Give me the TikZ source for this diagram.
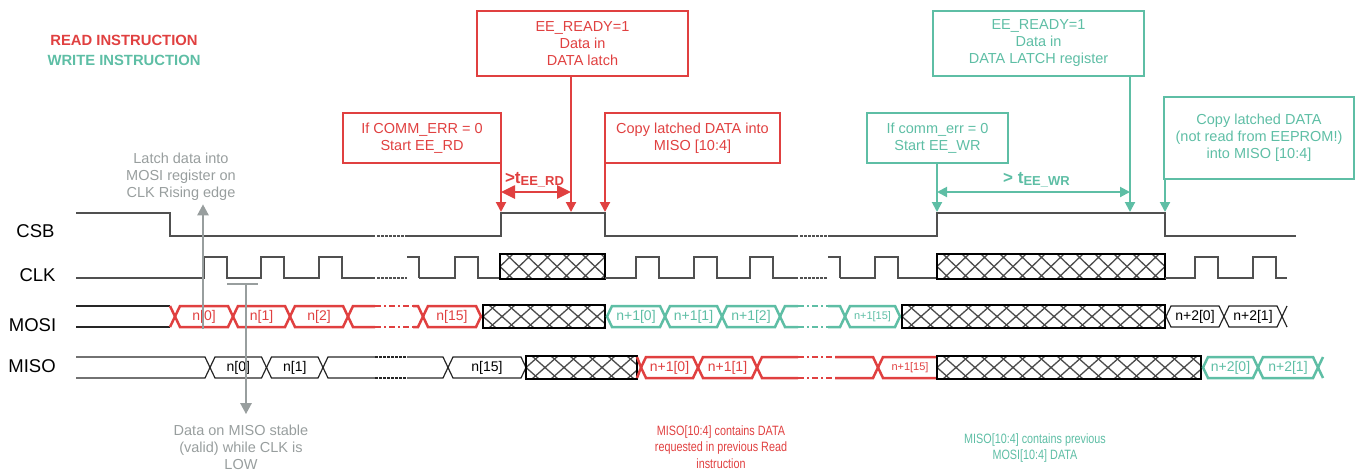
\documentclass[tikz,border=0pt]{standalone}
\usepackage{fontspec}
\setmainfont{Liberation Sans}
\newfontfamily\narrowsans[FakeStretch=0.8]{Liberation Sans}
\usetikzlibrary{arrows.meta}

\definecolor{rdc}{RGB}{224,64,64}
\definecolor{tlc}{RGB}{94,190,165}
\definecolor{gyc}{RGB}{152,158,158}
\definecolor{sgc}{RGB}{80,80,80}

\newcommand{\txtsize}{\fontsize{14.5}{17}\selectfont}
\newcommand{\lblsize}{\fontsize{14}{14}\selectfont}
\newcommand{\smlsize}{\fontsize{11}{11}\selectfont}

% bus cell: name, style, left tip, right tip, top, bottom, label
\newcommand{\hexseg}[7]{%
  \draw[#2] (#3,{(#5+#6)/2}) -- (#3+5,#5) -- (#4-5,#5) -- (#4,{(#5+#6)/2}) -- (#4-5,#6) -- (#3+5,#6) -- cycle;
  \node[#2, draw=none, font=\lblsize] (#1) at ({(#3+#4)/2},{(#5+#6)/2}) {#7};}
% broken bus cell: style, left tip, right tip, gap from, gap to, top, bottom, gap style
\newcommand{\gapseg}[8]{%
  \draw[#1] (#4,#6) -- (#2+5,#6) -- (#2,{(#6+#7)/2}) -- (#2+5,#7) -- (#4,#7);
  \draw[#1] (#5,#6) -- (#3-5,#6) -- (#3,{(#6+#7)/2}) -- (#3-5,#7) -- (#5,#7);
  \draw[#1,#8] (#4,#6) -- (#5,#6) (#4,#7) -- (#5,#7);}
% clock run: start, rising edges, end
\newcommand{\clkrun}[3]{%
  \draw[sig] (#1,278) foreach \tck in {#2} {-- (\tck,278) -- (\tck,257) -- (\tck+23,257) -- (\tck+23,278)} -- (#3,278);}
% don't-care box: left, top, right, bottom
\newcommand{\hatchbox}[4]{%
  \fill[white] (#1,#2) rectangle (#3,#4);
  \begin{scope}
    \clip (#1,#2) rectangle (#3,#4);
    \foreach \hk in {-1,...,15} {
      \pgfmathsetmacro{\hx}{#1+19*\hk}
      \draw[hatchline] (\hx-13,#2) -- (\hx+13,#4) (\hx+13,#2) -- (\hx-13,#4);}
  \end{scope}
  \draw[hatchframe] (#1,#2) rectangle (#3,#4);}

\begin{document}
\begin{tikzpicture}[x=1pt, y=-1pt,
    sig/.style={draw=sgc, line width=1.5pt},
    brk/.style={dash pattern=on 2.5pt off 1.5pt},
    dsh/.style={dash pattern=on 6pt off 3pt on 2pt off 3pt},
    rdbus/.style={draw=rdc, text=rdc, line width=2.5pt},
    tlbus/.style={draw=tlc, text=tlc, line width=2.5pt},
    bkbus/.style={draw=black!85, text=black, line width=1.2pt},
    hatchline/.style={draw=black!70, line width=1.3pt},
    hatchframe/.style={draw=black, line width=1.8pt},
    rdbox/.style={rectangle, draw=rdc, text=rdc, line width=2pt, align=center, font=\txtsize, inner sep=0pt},
    tlbox/.style={rectangle, draw=tlc, text=tlc, line width=2pt, align=center, font=\txtsize, inner sep=0pt},
    note/.style={align=center, font=\txtsize, text=gyc},
    remark/.style={align=center, font=\narrowsans\fontsize{13.5}{16.5}\selectfont},
    signame/.style={font=\fontsize{18.5}{18.5}\selectfont},
    keytext/.style={font=\bfseries\fontsize{14.8}{14.8}\selectfont},
    rdarr/.style={draw=rdc, line width=2pt, -{Triangle[length=10pt,width=10pt]}},
    tlarr/.style={draw=tlc, line width=2pt, -{Triangle[length=10pt,width=10pt]}},
    rdspan/.style={draw=rdc, line width=2.6pt, {Triangle[length=14pt,width=13pt]}-{Triangle[length=14pt,width=13pt]}},
    tlspan/.style={draw=tlc, line width=2pt, {Triangle[length=10pt,width=10pt]}-{Triangle[length=10pt,width=10pt]}},
    grayarr/.style={draw=gyc, line width=2.4pt, -{Triangle[length=11pt,width=11pt]}}
  ]
\useasboundingbox (0,0) rectangle (1357,472);

\node[keytext, text=rdc] (readkey) at (124,40) {READ INSTRUCTION};
\node[keytext, text=tlc] (writekey) at (124,60) {WRITE INSTRUCTION};

\node[signame] (csb) at (35.5,231.5) {CSB};
\node[signame] (clk) at (37.5,275) {CLK};
\node[signame] (mosi) at (32.5,325) {MOSI};
\node[signame] (miso) at (32,366.5) {MISO};

% CSB
\draw[sig] (76,213) -- (170,213) -- (170,236) -- (375,236);
\draw[sig, brk] (377,236) -- (407,236);
\draw[sig] (407,236) -- (501,236) -- (501,213) -- (605,213) -- (605,236) -- (798,236);
\draw[sig, brk] (800,236) -- (828,236);
\draw[sig] (828,236) -- (937,236) -- (937,213) -- (1165,213) -- (1165,236) -- (1296,236);

% CLK
\clkrun{76}{204,261,319}{375}
\draw[sig, brk] (377,278) -- (407,278);
\draw[sig] (407,257) -- (419,257) -- (419,278);
\clkrun{419}{455}{500}
\hatchbox{500}{254}{605}{279}
\clkrun{605}{636,694,750}{798}
\draw[sig, brk] (800,278) -- (828,278);
\draw[sig] (828,257) -- (840,257) -- (840,278);
\clkrun{840}{875}{937}
\hatchbox{937}{254}{1165}{279}
\clkrun{1165}{1195,1253}{1287}

% MOSI
\draw[bkbus] (76,306) -- (170,306) (76,327) -- (170,327);
\draw[rdbus] (170,306) -- (175,316.5) -- (170,327);
\hexseg{mosia}{rdbus}{175}{233}{306}{327}{n[0]}
\hexseg{mosib}{rdbus}{233}{290}{306}{327}{n[1]}
\hexseg{mosic}{rdbus}{290}{348}{306}{327}{n[2]}
\gapseg{rdbus}{348}{423}{375}{413}{306}{327}{dsh}
\hexseg{mosid}{rdbus}{423}{481}{306}{327}{n[15]}
\hatchbox{483}{305}{605}{328}
\hexseg{mosie}{tlbus}{607}{665}{306}{327}{n+1[0]}
\hexseg{mosif}{tlbus}{665}{722}{306}{327}{n+1[1]}
\hexseg{mosig}{tlbus}{722}{780}{306}{327}{n+1[2]}
\gapseg{tlbus}{780}{845}{798}{828}{306}{327}{dsh}
\hexseg{mosih}{tlbus}{845}{900}{306}{327}{\smlsize n+1[15]}
\hatchbox{902}{305}{1165}{328}
\hexseg{mosii}{bkbus}{1166}{1224}{306}{327}{n+2[0]}
\hexseg{mosij}{bkbus}{1224}{1282}{306}{327}{n+2[1]}
\draw[bkbus] (1287,306) -- (1282,316.5) -- (1287,327);

% MISO
\draw[bkbus] (76,357) -- (205,357) -- (210,367.5) -- (205,378) -- (76,378);
\hexseg{misoa}{bkbus}{210}{266.5}{357}{378}{n[0]}
\hexseg{misob}{bkbus}{266.5}{323}{357}{378}{n[1]}
\gapseg{bkbus}{323}{448}{375}{407}{357}{378}{brk}
\hexseg{misoc}{bkbus}{448}{526}{357}{378}{n[15]}
\hatchbox{526}{356}{637}{379}
\draw[rdbus] (637,357) -- (641,367.5) -- (637,378);
\hexseg{misod}{rdbus}{641}{698}{357}{378}{n+1[0]}
\hexseg{misoe}{rdbus}{698}{757}{357}{378}{n+1[1]}
\gapseg{rdbus}{757}{878}{798}{835}{357}{378}{dsh}
\draw[rdbus] (937,357) -- (883,357) -- (878,367.5) -- (883,378) -- (937,378);
\node[rdbus, draw=none, font=\smlsize] (misof) at (910,367.5) {n+1[15]};
\hatchbox{937}{356}{1201}{379}
\hexseg{misog}{tlbus}{1203}{1258}{357}{378}{n+2[0]}
\hexseg{misoh}{tlbus}{1258}{1318}{357}{378}{n+2[1]}
\draw[tlbus] (1323,357) -- (1318,367.5) -- (1323,378);

% boxes
\node[rdbox, minimum width=158pt, minimum height=50pt] (rdstartbox) at (422,138) {If COMM\_ERR = 0\\Start EE\_RD};
\node[rdbox, minimum width=211pt, minimum height=65pt] (rdreadybox) at (582.5,43.5) {EE\_READY=1\\Data in\\DATA latch};
\node[rdbox, minimum width=175pt, minimum height=50pt] (rdcopybox) at (692.5,138) {Copy latched DATA into\\MISO [10:4]};
\node[tlbox, minimum width=141pt, minimum height=50pt] (wrstartbox) at (937.5,138) {If comm\_err = 0\\Start EE\_WR};
\node[tlbox, minimum width=211pt, minimum height=65pt] (wrreadybox) at (1038.5,43.5) {EE\_READY=1\\Data in\\DATA LATCH register};
\node[tlbox, minimum width=190pt, minimum height=82pt] (wrcopybox) at (1259,138) {Copy latched DATA\\(not read from EEPROM!)\\into MISO [10:4]};

\coordinate (rdstart) at (501,212);
\coordinate (rdready) at (571,212);
\coordinate (rdcopy) at (605,212);
\coordinate (wrstart) at (937,212);
\coordinate (wrready) at (1130,212);
\coordinate (wrcopy) at (1165,212);
\draw[rdarr] (rdstart |- rdstartbox.south) -- (rdstart);
\draw[rdarr] (rdready |- rdreadybox.south) -- (rdready);
\draw[rdarr] (rdcopy |- rdcopybox.south) -- (rdcopy);
\draw[tlarr] (wrstart |- wrstartbox.south) -- (wrstart);
\draw[tlarr] (wrready |- wrreadybox.south) -- (wrready);
\draw[tlarr] (wrcopy |- wrcopybox.south) -- (wrcopy);
\draw[rdspan] (rdstart |- 0,192) -- (rdready |- 0,192);
\draw[tlspan] (wrstart |- 0,192) -- (wrready |- 0,192);
\node[text=rdc, font=\bfseries] (rdtime) at (534.5,180) {{\fontsize{17}{17}\selectfont >t}{\fontsize{13}{13}\selectfont\raisebox{-2pt}{EE\_RD}}};
\node[text=tlc, font=\bfseries] (wrtime) at (1036.5,180) {{\fontsize{17}{17}\selectfont > t}{\fontsize{13}{13}\selectfont\raisebox{-2pt}{EE\_WR}}};

% notes
\node[note] (latch) at (181,177) {Latch data into\\MOSI register on\\CLK Rising edge};
\coordinate (latchpt) at (203,329);
\draw[grayarr] (latchpt) -- (latchpt |- latch.south);
\node[note] (stable) at (241,447) {Data on MISO stable\\(valid) while CLK is\\LOW};
\coordinate (stablept) at (246,284);
\draw[gyc, line width=2.4pt] ([xshift=-19pt]stablept) -- ([xshift=12pt]stablept);
\draw[grayarr, shorten >=7pt] (stablept) -- (stablept |- stable.north);
\node[remark, text=rdc] (rdnote) at (721,447) {MISO[10:4] contains DATA\\requested in previous Read\\instruction};
\node[remark, text=tlc] (wrnote) at (1035,448) {MISO[10:4] contains previous\\MOSI[10:4] DATA};
\end{tikzpicture}
\end{document}
